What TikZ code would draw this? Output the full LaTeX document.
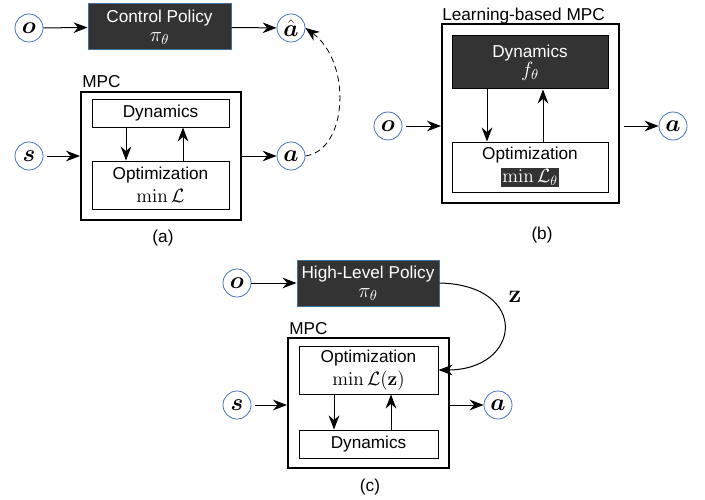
\RequirePackage{fix-cm}
\documentclass[tikz,border=0pt]{standalone}
\usepackage{amsmath,amssymb,bm}
\usepackage[no-math]{fontspec}
\setmainfont{Liberation Sans}
\usetikzlibrary{arrows.meta,fit}
\definecolor{varblue}{HTML}{4472C4}
\definecolor{boxdark}{HTML}{333333}
\definecolor{edgeblue}{HTML}{41719C}
\begin{document}
\begin{tikzpicture}[x=0.75pt,y=-0.75pt,
  font=\fontsize{12.9}{15.5}\selectfont,
  var/.style={circle, draw=varblue, line width=0.6pt, fill=white, minimum size=21pt, inner sep=0pt, font=\fontsize{18}{19}\selectfont},
  box/.style={draw, line width=0.75pt, inner sep=0pt},
  outerbox/.style={draw, line width=1.5pt, inner sep=0pt},
  darkbox/.style={box, fill=boxdark},
  txt/.style={align=center, inner sep=0pt},
  wtxt/.style={txt, text=white},
  arr/.style={-{Stealth[length=10.5pt,width=8pt]}, line width=0.75pt},
  gap/.style={shorten <=3pt}]
\useasboundingbox (0,0) rectangle (705,499);
\newcommand{\bigmath}[1]{{\fontsize{15.5}{17}\selectfont$#1$}}
\newcommand{\midmath}[1]{{\fontsize{14.5}{16}\selectfont$#1$}}

% ---------- (a) ----------
\node[var] (oa) at (29,28) {$\boldsymbol{o}$};
\node[darkbox, draw=edgeblue, fit={(88,4)(231,50)}] (pol) {};
\node[wtxt] (polt) at (pol.center) {Control Policy\\[-1pt]\bigmath{\pi_\theta}};
\node[var] (ahat) at (291,28) {$\hat{\boldsymbol{a}}$};
\node[anchor=base west, inner sep=0pt] (mpcla) at (82,88) {MPC};
\node[outerbox, fit={(81,92)(241,220)}] (mpca) {};
\node[box, fit={(92,100)(229,127)}] (dyna) {};
\node[txt] (dynat) at (dyna.center) {Dynamics};
\node[box, fit={(92,161)(229,209)}] (opta) {};
\node[txt] (optat) at (opta.center) {Optimization\\[2pt]\midmath{\min\mathcal{L}}};
\node[var] (sa) at (29,156) {$\boldsymbol{s}$};
\node[var] (aa) at (291,156) {$\boldsymbol{a}$};
\node[txt] (capa) at (163,238) {(a)};
\coordinate (xa1) at (126,0);
\coordinate (xa2) at (183,0);
\draw[arr] (oa) -- (pol);
\draw[arr] (pol) -- (ahat);
\draw[arr, gap] (sa) -- (mpca.west |- sa);
\draw[arr] (mpca.east |- aa) -- (aa);
\draw[arr] (dyna.south -| xa1) -- (opta.north -| xa1);
\draw[arr] (opta.north -| xa2) -- (dyna.south -| xa2);
\draw[arr, dash pattern=on 4.5pt off 3pt, line width=0.6pt] (aa.east) .. controls (348,150) and (352,62) .. (ahat.east);

% ---------- (b) ----------
\node[anchor=base west, inner sep=0pt] (lmpcl) at (442,21) {Learning-based MPC};
\node[var] (ob) at (388,126) {$\boldsymbol{o}$};
\node[outerbox, fit={(442,24)(619,203)}] (mpcb) {};
\node[darkbox, fit={(452,36)(608,89)}] (dynb) {};
\node[wtxt] (dynbt) at (dynb.center) {Dynamics\\[-1pt]\bigmath{f_\theta}};
\node[box, fit={(452,142)(608,192)}] (optb) {};
\node[txt] (optbt) at (optb.center) {Optimization\\[2pt]{\fboxsep=1pt\colorbox{boxdark}{\color{white}\midmath{\min\mathcal{L}_\theta}}}};
\node[var] (ab) at (673,126) {$\boldsymbol{a}$};
\node[txt] (capb) at (542,235) {(b)};
\coordinate (xb1) at (487,0);
\coordinate (xb2) at (543,0);
\draw[arr, gap] (ob) -- (mpcb.west |- ob);
\draw[arr, shorten <=3pt] (mpcb.east |- ab) -- (ab);
\draw[arr] (dynb.south -| xb1) -- (optb.north -| xb1);
\draw[arr] (optb.north -| xb2) -- (dynb.south -| xb2);

% ---------- (c) ----------
\node[var] (oc) at (237,283) {$\boldsymbol{o}$};
\node[darkbox, draw=edgeblue, fit={(297,260)(439,306)}] (hl) {};
\node[wtxt] (hlt) at (hl.center) {High-Level Policy\\[-1pt]\bigmath{\pi_\theta}};
\node[txt, font=\fontsize{19}{20}\selectfont] (zl) at (515,297) {$\mathbf{z}$};
\node[anchor=base west, inner sep=0pt] (mpclc) at (289,334) {MPC};
\node[outerbox, fit={(288,338)(449,468)}] (mpcc) {};
\node[box, fit={(299,346)(438,394)}] (optc) {};
\node[txt] (optct) at (optc.center) {Optimization\\[2pt]\midmath{\min\mathcal{L}(\mathbf{z})}};
\node[box, fit={(299,430)(438,458)}] (dync) {};
\node[txt] (dynct) at (dync.center) {Dynamics};
\node[var] (sc) at (237,405) {$\boldsymbol{s}$};
\node[var] (ac) at (498,405) {$\boldsymbol{a}$};
\node[txt] (capc) at (370,487) {(c)};
\coordinate (xc1) at (334,0);
\coordinate (xc2) at (391,0);
\draw[arr] (oc) -- (hl);
\draw[arr, gap] (sc) -- (mpcc.west |- sc);
\draw[arr] (mpcc.east |- ac) -- (ac);
\draw[arr] (optc.south -| xc1) -- (dync.north -| xc1);
\draw[arr] (dync.north -| xc2) -- (optc.south -| xc2);
\draw[arr] (hl.east) .. controls (530,285) and (522,370) .. (optc.east);
\end{tikzpicture}
\end{document}
